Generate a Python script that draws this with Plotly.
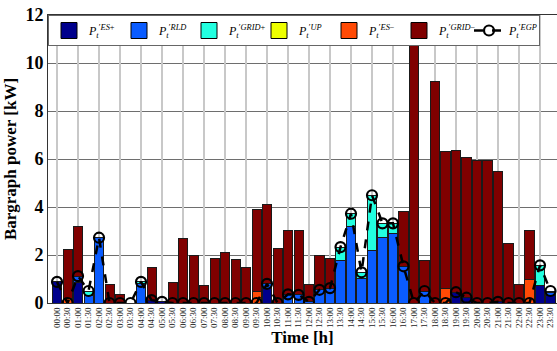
import plotly.graph_objects as go

times = ["00:00", "00:30", "01:00", "01:30", "02:00", "02:30", "03:00", "03:30",
         "04:00", "04:30", "05:00", "05:30", "06:00", "06:30", "07:00", "07:30",
         "08:00", "08:30", "09:00", "09:30", "10:00", "10:30", "11:00", "11:30",
         "12:00", "12:30", "13:00", "13:30", "14:00", "14:30", "15:00", "15:30",
         "16:00", "16:30", "17:00", "17:30", "18:00", "18:30", "19:00", "19:30",
         "20:00", "20:30", "21:00", "21:30", "22:00", "22:30", "23:00", "23:30"]

p_es_plus = [0.90, 0, 0.85, 0, 0, 0, 0, 0, 0, 0.12, 0.05, 0,
             0, 0, 0, 0, 0, 0, 0, 0, 0.62, 0, 0, 0,
             0, 0, 0, 0, 0, 0, 0, 0, 0, 0, 0, 0,
             0, 0, 0.45, 0.22, 0, 0, 0.05, 0, 0, 0, 0.74, 0.30]
p_rld = [0, 0, 0.25, 0.30, 2.72, 0, 0, 0, 0.80, 0, 0, 0,
         0, 0, 0, 0, 0, 0, 0, 0, 0.18, 0, 0.36, 0.34,
         0.05, 0.55, 0.62, 1.78, 3.17, 1.02, 2.20, 2.72, 2.89, 1.53, 0, 0.50,
         0, 0, 0, 0, 0, 0, 0, 0, 0, 0, 0, 0.12]
p_grid_plus = [0, 0, 0, 0.20, 0, 0, 0, 0, 0.08, 0, 0, 0,
               0, 0, 0, 0, 0, 0, 0, 0, 0, 0, 0, 0,
               0, 0, 0, 0.55, 0.55, 0.26, 2.29, 0.60, 0.43, 0, 0, 0,
               0, 0, 0, 0, 0, 0, 0, 0, 0, 0, 0.83, 0.08]
p_up = [0] * 48
p_es_minus = [0, 0.20, 0, 0, 0, 0, 0, 0, 0, 0, 0, 0,
              0, 0, 0, 0, 0, 0, 0, 0.50, 0, 0, 0, 0,
              0, 0, 0, 0, 0, 0, 0, 0, 0, 0, 0, 0,
              0, 0.62, 0, 0, 0, 0, 0, 0, 0, 1.00, 0, 0]
p_grid_minus = [0, 2.02, 2.10, 0, 0, 0.77, 0.37, 0, 0, 1.38, 0, 0.86,
                2.67, 1.98, 0.73, 1.86, 2.12, 1.83, 1.47, 3.38, 3.30, 2.27, 2.67, 2.69,
                0.72, 1.44, 1.25, 0, 0, 0, 0, 0, 0, 2.30, 10.73, 1.28,
                9.23, 5.69, 5.89, 5.86, 5.95, 5.95, 5.43, 2.47, 0.77, 2.03, 0, 0]
p_egp = [0.88, 0, 1.12, 0.50, 2.72, 0, 0, 0, 0.88, 0.12, 0.05, 0,
         0, 0, 0, 0, 0, 0, 0, 0, 0.80, 0, 0.36, 0.34,
         0.05, 0.55, 0.62, 2.33, 3.72, 1.28, 4.49, 3.32, 3.32, 1.53, 0, 0.50,
         0, 0, 0.45, 0.22, 0, 0, 0.05, 0, 0, 0, 1.57, 0.50]

names = ["<i>P</i><sub><i>t</i></sub><sup>′<i>ES</i>+</sup>",
         "<i>P</i><sub><i>t</i></sub><sup>′<i>RLD</i></sup>",
         "<i>P</i><sub><i>t</i></sub><sup>′<i>GRID</i>+</sup>",
         "<i>P</i><sub><i>t</i></sub><sup>′<i>UP</i></sup>",
         "<i>P</i><sub><i>t</i></sub><sup>′<i>ES</i>−</sup>",
         "<i>P</i><sub><i>t</i></sub><sup>′<i>GRID</i>−</sup>"]
egp_name = "<i>P</i><sub><i>t</i></sub><sup>′<i>EGP</i></sup>"
colors = ["#00008c", "#0a5cff", "#22ffe0", "#eeff00", "#ff4a05", "#800000"]
series = [p_es_plus, p_rld, p_grid_plus, p_up, p_es_minus, p_grid_minus]

FONT = "Liberation Serif"
fig = go.Figure()

for vals, col in zip(series, colors):
    fig.add_trace(go.Bar(x=times, y=vals, width=0.86, showlegend=False,
                         marker=dict(color=col, line=dict(color="#1a1a1a", width=1))))

for name, col in zip(names, colors):
    fig.add_trace(go.Scatter(x=[None], y=[None], mode="markers", name=name,
                             marker=dict(symbol="square", size=16, color=col,
                                         line=dict(color="black", width=1))))

fig.add_trace(go.Scatter(x=times, y=p_egp, mode="lines+markers", name=egp_name,
                         line=dict(color="black", dash="dash", width=2.5),
                         marker=dict(symbol="circle-open", size=10, color="black",
                                     line=dict(color="black", width=2.2))))

# helper trace for the hourly vertical grid
fig.add_trace(go.Scatter(x=[None], y=[None], xaxis="x2", showlegend=False,
                         hoverinfo="skip"))

xr = [-0.86, 47.62]
fig.update_layout(
    width=557, height=351,
    margin=dict(l=48, r=0, t=15, b=48),
    barmode="stack", bargap=0.14,
    plot_bgcolor="white", paper_bgcolor="white",
    font=dict(family=FONT, color="black"),
    xaxis=dict(type="category", range=xr, tickangle=-90, showgrid=False,
               tickmode="array", tickvals=times, ticktext=times,
               tickfont=dict(size=9, color="#222"), ticks="",
               showline=True, linecolor="#333", mirror=True,
               title=dict(text="<b>Time [h]</b>", font=dict(size=17), standoff=2)),
    xaxis2=dict(overlaying="x", anchor="y", range=xr, showgrid=True,
                tickvals=list(range(0, 48, 2)), showticklabels=False, ticks="",
                gridcolor="#c8c8c8", gridwidth=2, zeroline=False, showline=False),
    yaxis=dict(range=[0, 12], tickvals=[0, 2, 4, 6, 8, 10, 12], showgrid=True,
               gridcolor="#6e6e6e", gridwidth=1, zeroline=False,
               showline=True, linecolor="#333", mirror=True, ticks="",
               tickfont=dict(size=18, weight="bold"),
               title=dict(text="<b>Bargraph power [kW]</b>", font=dict(size=17), standoff=4)),
    legend=dict(orientation="h", x=0, y=1, xanchor="left", yanchor="top",
                traceorder="normal",
                bgcolor="white", bordercolor="#666", borderwidth=1,
                font=dict(size=12, family=FONT), itemwidth=30, tracegroupgap=0,
                entrywidth=25, entrywidthmode="pixels"),
)

fig.write_html("out.html")
